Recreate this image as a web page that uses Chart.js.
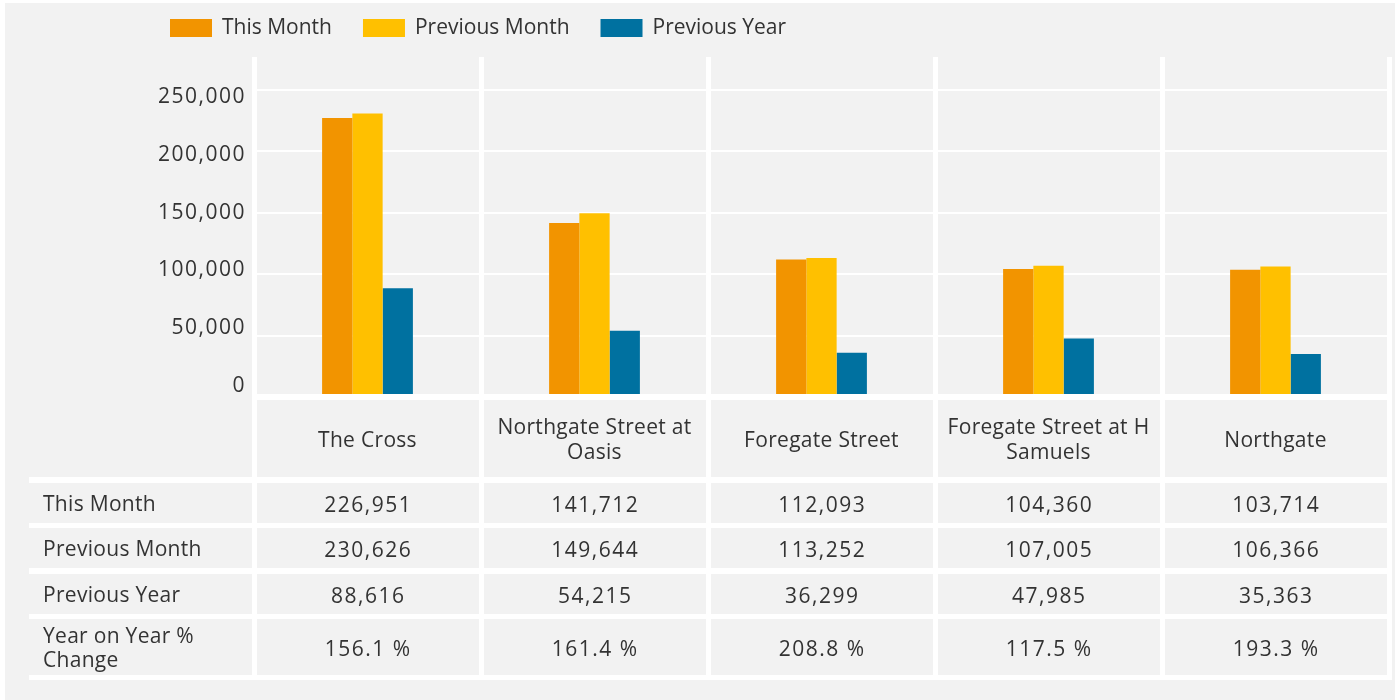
<!DOCTYPE html>
<html>
<head>
<meta charset="utf-8">
<script src="https://cdn.jsdelivr.net/npm/chart.js@4/dist/chart.umd.min.js"></script>
<style>
  html, body { margin: 0; padding: 0; background: #ffffff; }
  #wrap { width: 1400px; height: 700px; position: relative; }
</style>
</head>
<body>
<div id="wrap"><canvas id="c" width="1400" height="700"></canvas></div>
<script>
// ---------- data ----------
const categories = ['The Cross', 'Northgate Street at Oasis', 'Foregate Street', 'Foregate Street at H Samuels', 'Northgate'];
const thisMonth = [226951, 141712, 112093, 104360, 103714];
const previousMonth = [230626, 149644, 113252, 107005, 106366];
const previousYear = [88616, 54215, 36299, 47985, 35363];
const yoyChange = [156.1, 161.4, 208.8, 117.5, 193.3];
const seriesNames = ['This Month', 'Previous Month', 'Previous Year'];
const tableRowLabels = ['This Month', 'Previous Month', 'Previous Year', 'Year on Year % Change'];
const yTickValues = [0, 50000, 100000, 150000, 200000, 250000];

// ---------- styles ----------
const FONT = "'Open Sans', 'Noto Sans', sans-serif";
const TEXT = '#333333';
const PANEL = '#f2f2f2';
const COLORS = ['#f29400', '#ffc000', '#0071a0'];
const fmt = v => v.toLocaleString('en-US');

const bgPlugin = {
  id: 'bg',
  beforeDraw(chart) {
    const c = chart.ctx;
    c.save();
    c.fillStyle = '#ffffff';
    c.fillRect(0, 0, chart.width, chart.height);
    c.fillStyle = PANEL;
    c.fillRect(5, 3, 1390, 697);
    c.restore();
    c.letterSpacing = '1.5px';
  }
};

function wrapLines(ctx, text, maxW) {
  const words = text.split(' ');
  const lines = [];
  let cur = '';
  for (const w of words) {
    const t = cur ? cur + ' ' + w : w;
    if (ctx.measureText(t).width > maxW && cur) { lines.push(cur); cur = w; }
    else cur = t;
  }
  if (cur) lines.push(cur);
  return lines;
}

const legendTablePlugin = {
  id: 'legendTable',
  afterDraw(chart) {
    const ctx = chart.ctx;
    const xs = chart.scales.x;
    const area = chart.chartArea;
    const n = categories.length;
    const colW = (area.right - area.left) / n;
    const bounds = [];
    for (let i = 0; i <= n; i++) bounds.push(area.left + i * colW);

    ctx.save();
    ctx.font = `21px ${FONT}`;
    ctx.fillStyle = TEXT;
    ctx.textBaseline = 'alphabetic';

    // legend
    ctx.letterSpacing = '0px';
    let lx = 170;
    chart.data.datasets.forEach(ds => {
      ctx.fillStyle = ds.backgroundColor;
      ctx.fillRect(lx, 19, 42, 18);
      ctx.fillStyle = TEXT;
      ctx.textAlign = 'left';
      ctx.fillText(ds.label, lx + 52, 34);
      lx += 52 + ctx.measureText(ds.label).width + 31;
    });

    // table background (white separators)
    const tableBottom = 680;
    ctx.fillStyle = '#ffffff';
    ctx.fillRect(bounds[0] - 2, area.bottom - 3.5, bounds[n] + 5 - bounds[0], tableBottom - (area.bottom - 3.5));
    ctx.fillRect(29, 477, bounds[0] - 2 - 29, tableBottom - 477);

    const rows = [[400, 477], [483, 523], [528, 568], [574, 614], [619, 675]];
    ctx.fillStyle = PANEL;
    rows.forEach((r, ri) => {
      for (let i = 0; i < n; i++) {
        ctx.fillRect(bounds[i] + 3, r[0], bounds[i + 1] - 2 - (bounds[i] + 3), r[1] - r[0]);
      }
      if (ri > 0) ctx.fillRect(29, r[0], bounds[0] - 2 - 29, r[1] - r[0]);
    });

    // header row: categories
    ctx.letterSpacing = '0.3px';
    ctx.fillStyle = TEXT;
    ctx.textAlign = 'center';
    const lineH = 24.5;
    for (let i = 0; i < n; i++) {
      const cx = xs.getPixelForValue(i);
      const lines = wrapLines(ctx, categories[i], colW - 10);
      const mid = (rows[0][0] + rows[0][1]) / 2;
      const first = mid - (lines.length - 1) * lineH / 2;
      lines.forEach((l, k) => ctx.fillText(l, cx, first + k * lineH + 8));
    }

    // row labels
    ctx.textAlign = 'left';
    tableRowLabels.forEach((lab, ri) => {
      const r = rows[ri + 1];
      const mid = (r[0] + r[1]) / 2;
      const lines = wrapLines(ctx, lab, 190);
      const first = mid - (lines.length - 1) * 24 / 2;
      lines.forEach((l, k) => ctx.fillText(l, 43, first + k * 24 + 8));
    });

    // values
    ctx.letterSpacing = '1.5px';
    ctx.textAlign = 'center';
    const rowValues = [thisMonth.map(fmt), previousMonth.map(fmt), previousYear.map(fmt), yoyChange.map(v => v.toFixed(1) + ' %')];
    rowValues.forEach((vals, ri) => {
      const r = rows[ri + 1];
      const mid = (r[0] + r[1]) / 2;
      vals.forEach((v, i) => ctx.fillText(v, xs.getPixelForValue(i) + 0.75, mid + 8.5));
    });
    ctx.restore();
    ctx.letterSpacing = '0px';
  }
};

new Chart(document.getElementById('c'), {
  type: 'bar',
  data: {
    labels: categories,
    datasets: [
      { label: seriesNames[0], data: thisMonth, backgroundColor: COLORS[0], yAxisID: 'y' },
      { label: seriesNames[1], data: previousMonth, backgroundColor: COLORS[1], yAxisID: 'y' },
      { label: seriesNames[2], data: previousYear, backgroundColor: COLORS[2], yAxisID: 'y' }
    ]
  },
  options: {
    responsive: false,
    devicePixelRatio: 1,
    animation: false,
    layout: { padding: { left: 0, right: 11, top: 57, bottom: 302.5 } },
    datasets: { bar: { categoryPercentage: 0.4, barPercentage: 1.0, borderWidth: 0 } },
    plugins: { legend: { display: false }, title: { display: false }, tooltip: { enabled: false } },
    scales: {
      x: {
        offset: true,
        grid: { display: true, offset: true, color: '#ffffff', lineWidth: 5, drawTicks: false },
        border: { display: false },
        ticks: { display: false }
      },
      y: {
        position: 'left',
        min: 0,
        max: 276400,
        grid: { color: '#ffffff', lineWidth: 2, drawTicks: false },
        border: { display: false },
        ticks: { display: false, stepSize: 50000 },
        afterBuildTicks: s => { s.ticks = yTickValues.map(v => ({ value: v })); },
        afterFit: s => { s.width = 0; }
      },
      yLabels: {
        position: 'left',
        min: -9948,
        max: 284600,
        grid: { display: false, drawTicks: false },
        border: { display: false },
        ticks: { padding: 8, color: TEXT, font: { family: FONT, size: 21 }, callback: v => fmt(v) },
        afterBuildTicks: s => { s.ticks = yTickValues.map(v => ({ value: v })); },
        afterFit: s => { s.width = 254; }
      }
    }
  },
  plugins: [bgPlugin, legendTablePlugin]
});
</script>
</body>
</html>
